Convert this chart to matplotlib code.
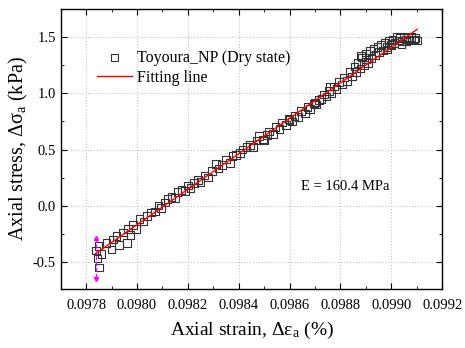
import matplotlib
matplotlib.use("Agg")
import matplotlib.pyplot as plt
from matplotlib.ticker import MultipleLocator, FormatStrFormatter

plt.rcParams["font.family"] = ["Liberation Serif", "DejaVu Serif"]
plt.rcParams["mathtext.fontset"] = "custom"
plt.rcParams["mathtext.rm"] = "Liberation Serif"
plt.rcParams["mathtext.it"] = "Liberation Serif:italic"

# Measured points (axial strain %, axial stress kPa)
strain = [
    0.097840, 0.097845, 0.097850, 0.097848, 0.097860, 0.097880, 0.097900, 0.097905,
    0.097920, 0.097930, 0.097945, 0.097960, 0.097965, 0.097975, 0.097985, 0.097995,
    0.098010, 0.098025, 0.098040, 0.098055, 0.098070, 0.098085, 0.098095, 0.098110,
    0.098120, 0.098135, 0.098150, 0.098160, 0.098175, 0.098190, 0.098200, 0.098210,
    0.098225, 0.098240, 0.098250, 0.098265, 0.098280, 0.098295, 0.098310, 0.098320,
    0.098335, 0.098350, 0.098365, 0.098375, 0.098390, 0.098405, 0.098415, 0.098430,
    0.098445, 0.098455, 0.098470, 0.098480, 0.098495, 0.098510, 0.098520, 0.098535,
    0.098545, 0.098560, 0.098570, 0.098585, 0.098595, 0.098610, 0.098620, 0.098635,
    0.098645, 0.098660, 0.098670, 0.098680, 0.098695, 0.098705, 0.098715, 0.098725,
    0.098735, 0.098745, 0.098755, 0.098765, 0.098775, 0.098785, 0.098795, 0.098805,
    0.098815, 0.098825, 0.098835, 0.098845, 0.098855, 0.098862, 0.098870, 0.098878,
    0.098885, 0.098892, 0.098900, 0.098908, 0.098915, 0.098922, 0.098930, 0.098938,
    0.098945, 0.098952, 0.098960, 0.098968, 0.098975, 0.098982, 0.098990, 0.098998,
    0.099005, 0.099012, 0.099020, 0.099028, 0.099035, 0.099042, 0.099050, 0.099058,
    0.099065, 0.099072, 0.099080, 0.099088, 0.099095, 0.099102, 0.099040, 0.099060,
    0.099000, 0.098985, 0.098900, 0.098880, 0.098760, 0.098700, 0.098600, 0.098500,
]
stress = [
    -0.40, -0.47, -0.55, -0.36, -0.43, -0.33, -0.39, -0.30,
    -0.27, -0.35, -0.24, -0.33, -0.21, -0.26, -0.17, -0.21,
    -0.12, -0.14, -0.09, -0.06, -0.05, 0.00, -0.02, 0.03,
    0.06, 0.08, 0.07, 0.12, 0.14, 0.13, 0.18, 0.16,
    0.20, 0.23, 0.21, 0.27, 0.25, 0.31, 0.37, 0.33,
    0.36, 0.41, 0.38, 0.44, 0.45, 0.47, 0.50, 0.52,
    0.54, 0.52, 0.58, 0.62, 0.59, 0.63, 0.66, 0.64,
    0.70, 0.68, 0.74, 0.72, 0.77, 0.75, 0.80, 0.79,
    0.84, 0.82, 0.88, 0.86, 0.91, 0.90, 0.94, 0.95,
    0.99, 0.97, 1.02, 1.00, 1.06, 1.04, 1.10, 1.08,
    1.14, 1.11, 1.19, 1.15, 1.24, 1.19, 1.27, 1.22,
    1.32, 1.25, 1.35, 1.27, 1.38, 1.31, 1.40, 1.34,
    1.41, 1.37, 1.43, 1.38, 1.45, 1.41, 1.47, 1.43,
    1.48, 1.45, 1.50, 1.47, 1.49, 1.46, 1.50, 1.48,
    1.49, 1.47, 1.50, 1.48, 1.49, 1.47, 1.44, 1.46,
    1.44, 1.39, 1.30, 1.33, 1.06, 0.92, 0.76, 0.58,
]

# Linear fit endpoints (E = 160.4 MPa)
fit_strain = [0.097835, 0.099102]
fit_stress = [-0.43, 1.57]

# Error marker at the first point
err_x = [0.09784, 0.09784]
err_y = [-0.29, -0.65]

fig = plt.figure(figsize=(4.65, 3.48), dpi=100)
ax = fig.add_axes([0.131, 0.170, 0.820, 0.804])

ax.scatter(strain, stress, marker="s", s=30, facecolors="none",
           edgecolors="#333333", linewidths=0.8,
           label="Toyoura_NP (Dry state)", zorder=3)
ax.plot(fit_strain, fit_stress, color="red", lw=1.0, label="Fitting line", zorder=4)
ax.plot(err_x, err_y, color="magenta", lw=0.8, ls="--", zorder=5)
ax.plot(err_x[0], err_y[0], marker="^", color="magenta", ms=3, zorder=5)
ax.plot(err_x[1], err_y[1], marker="v", color="magenta", ms=3, zorder=5)

ax.set_xlim(0.097701, 0.0992)
ax.set_ylim(-0.74, 1.75)
ax.xaxis.set_major_locator(MultipleLocator(0.0002))
ax.xaxis.set_minor_locator(MultipleLocator(0.0001))
ax.xaxis.set_major_formatter(FormatStrFormatter("%.4f"))
ax.yaxis.set_major_locator(MultipleLocator(0.5))
ax.yaxis.set_minor_locator(MultipleLocator(0.25))
ax.yaxis.set_major_formatter(FormatStrFormatter("%.1f"))
ax.tick_params(which="both", direction="in", top=True, right=True, labelsize=10.5)
ax.tick_params(which="major", length=4)
ax.tick_params(which="minor", length=2)
ax.tick_params(axis="x", which="major", pad=7)
ax.grid(True, which="major", ls=":", color="#c4c4c4", lw=0.8)
for s in ax.spines.values():
    s.set_linewidth(1.0)

ax.set_xlabel("Axial strain, Δε$_{\\rm a}$ (%)", fontsize=14, labelpad=6)
ax.set_ylabel("Axial stress, Δσ$_{\\rm a}$ (kPa)", fontsize=14.5, labelpad=2)
ax.text(0.098644, 0.17, "E = 160.4 MPa", fontsize=10.5, va="center")

ax.legend(loc="upper left", bbox_to_anchor=(0.094, 0.855), frameon=False,
          fontsize=11.5, handlelength=2.2, handletextpad=0.3, borderaxespad=0,
          borderpad=0, labelspacing=0.25)

fig.savefig("out.png", dpi=100)
